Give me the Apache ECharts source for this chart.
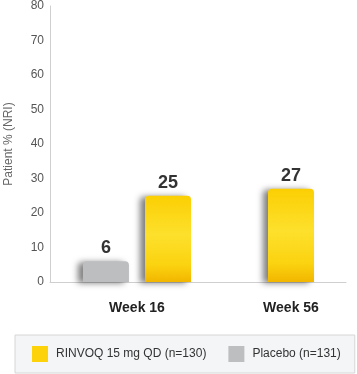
<!DOCTYPE html>
<html><head><meta charset="utf-8">
<script src="https://cdn.jsdelivr.net/npm/echarts@6/dist/echarts.min.js"></script>
<style>html,body{margin:0;padding:0;background:#fff}#c{width:357px;height:374px}</style>
</head><body><div id="c"></div>
<script>
const categories = ['Week 16', 'Week 56'];
const rinvoqName = 'RINVOQ 15 mg QD (n=130)';
const placeboName = 'Placebo (n=131)';
const rinvoq = [25, 27];
const placebo = [6, null];
const yTicks = {min: 0, max: 80, interval: 10};

const paired = rinvoq.map((v, i) => placebo[i] != null ? v : '-');
const single = rinvoq.map((v, i) => placebo[i] != null ? '-' : v);

const yellow = new echarts.graphic.LinearGradient(0, 0, 0, 1, [
  {offset: 0, color: '#FBCF03'},
  {offset: 0.45, color: '#FDE02C'},
  {offset: 0.8, color: '#FBD310'},
  {offset: 1, color: '#F2B600'}
]);
const shadow = {shadowColor: 'rgba(0,0,0,0.5)', shadowBlur: 6, shadowOffsetX: -5, shadowOffsetY: 1};
const font = 'Liberation Sans';
const valLabel = {show: true, position: 'top', distance: 4, fontSize: 18, fontWeight: 'bold', color: '#333', fontFamily: font};

const chart = echarts.init(document.getElementById('c'), null, {renderer: 'canvas'});
chart.setOption({
  animation: false,
  grid: [
    {left: 60, width: 308, top: 6, bottom: 92, containLabel: false, outerBoundsMode: 'none'},
    {left: 50, width: 296, top: 6, bottom: 92, containLabel: false, outerBoundsMode: 'none'}
  ],
  xAxis: [
    {type: 'category', gridIndex: 0, data: categories, axisLine: {show: false}, axisTick: {show: false},
     axisLabel: {interval: 0, margin: 19, fontSize: 14, fontWeight: 900, color: '#222', fontFamily: font}},
    {type: 'category', gridIndex: 0, data: categories, show: false},
    {type: 'category', gridIndex: 1, data: categories, axisLabel: {show: false}, axisTick: {show: false},
     axisLine: {lineStyle: {color: '#cfcfcf', width: 1}}}
  ],
  yAxis: [
    {type: 'value', gridIndex: 0, min: yTicks.min, max: yTicks.max, interval: yTicks.interval, offset: 10,
     axisLine: {show: true, lineStyle: {color: '#cfcfcf'}}, axisTick: {show: false}, splitLine: {show: false},
     axisLabel: {margin: 6, fontSize: 12, color: '#555', fontFamily: font},
     name: 'Patient % (NRI)', nameLocation: 'middle', nameGap: 35, nameRotate: 90,
     nameTextStyle: {fontSize: 12, color: '#666', fontFamily: font}},
    {type: 'value', gridIndex: 1, min: yTicks.min, max: yTicks.max, show: false}
  ],
  legend: {
    orient: 'horizontal',
    left: 15, bottom: 1, width: 310,
    padding: [11, 14, 11, 17],
    backgroundColor: '#f4f5f7', borderColor: '#d6d6d6', borderWidth: 1,
    itemWidth: 16, itemHeight: 16, itemGap: 22,
    icon: 'rect',
    textStyle: {fontSize: 12, color: '#333', fontFamily: font, padding: [0, 0, 0, 3]},
    data: [
      {name: rinvoqName, itemStyle: {color: '#FDD20A'}},
      {name: placeboName, itemStyle: {color: '#BDBEC0'}}
    ]
  },
  series: [
    {name: placeboName, type: 'bar', xAxisIndex: 0, yAxisIndex: 0, data: placebo.map(v => v == null ? '-' : v),
     barWidth: 46, barGap: '35%',
     itemStyle: Object.assign({color: '#BDBEC0', borderRadius: [4, 4, 0, 0]}, shadow), label: valLabel},
    {name: rinvoqName, type: 'bar', xAxisIndex: 0, yAxisIndex: 0, data: paired,
     barWidth: 46, barGap: '35%',
     itemStyle: Object.assign({color: yellow, borderRadius: [4, 4, 0, 0]}, shadow), label: valLabel},
    {name: rinvoqName, type: 'bar', xAxisIndex: 1, yAxisIndex: 0, data: single,
     barWidth: 46,
     itemStyle: Object.assign({color: yellow, borderRadius: [4, 4, 0, 0]}, shadow), label: valLabel}
  ]
});
</script></body></html>
